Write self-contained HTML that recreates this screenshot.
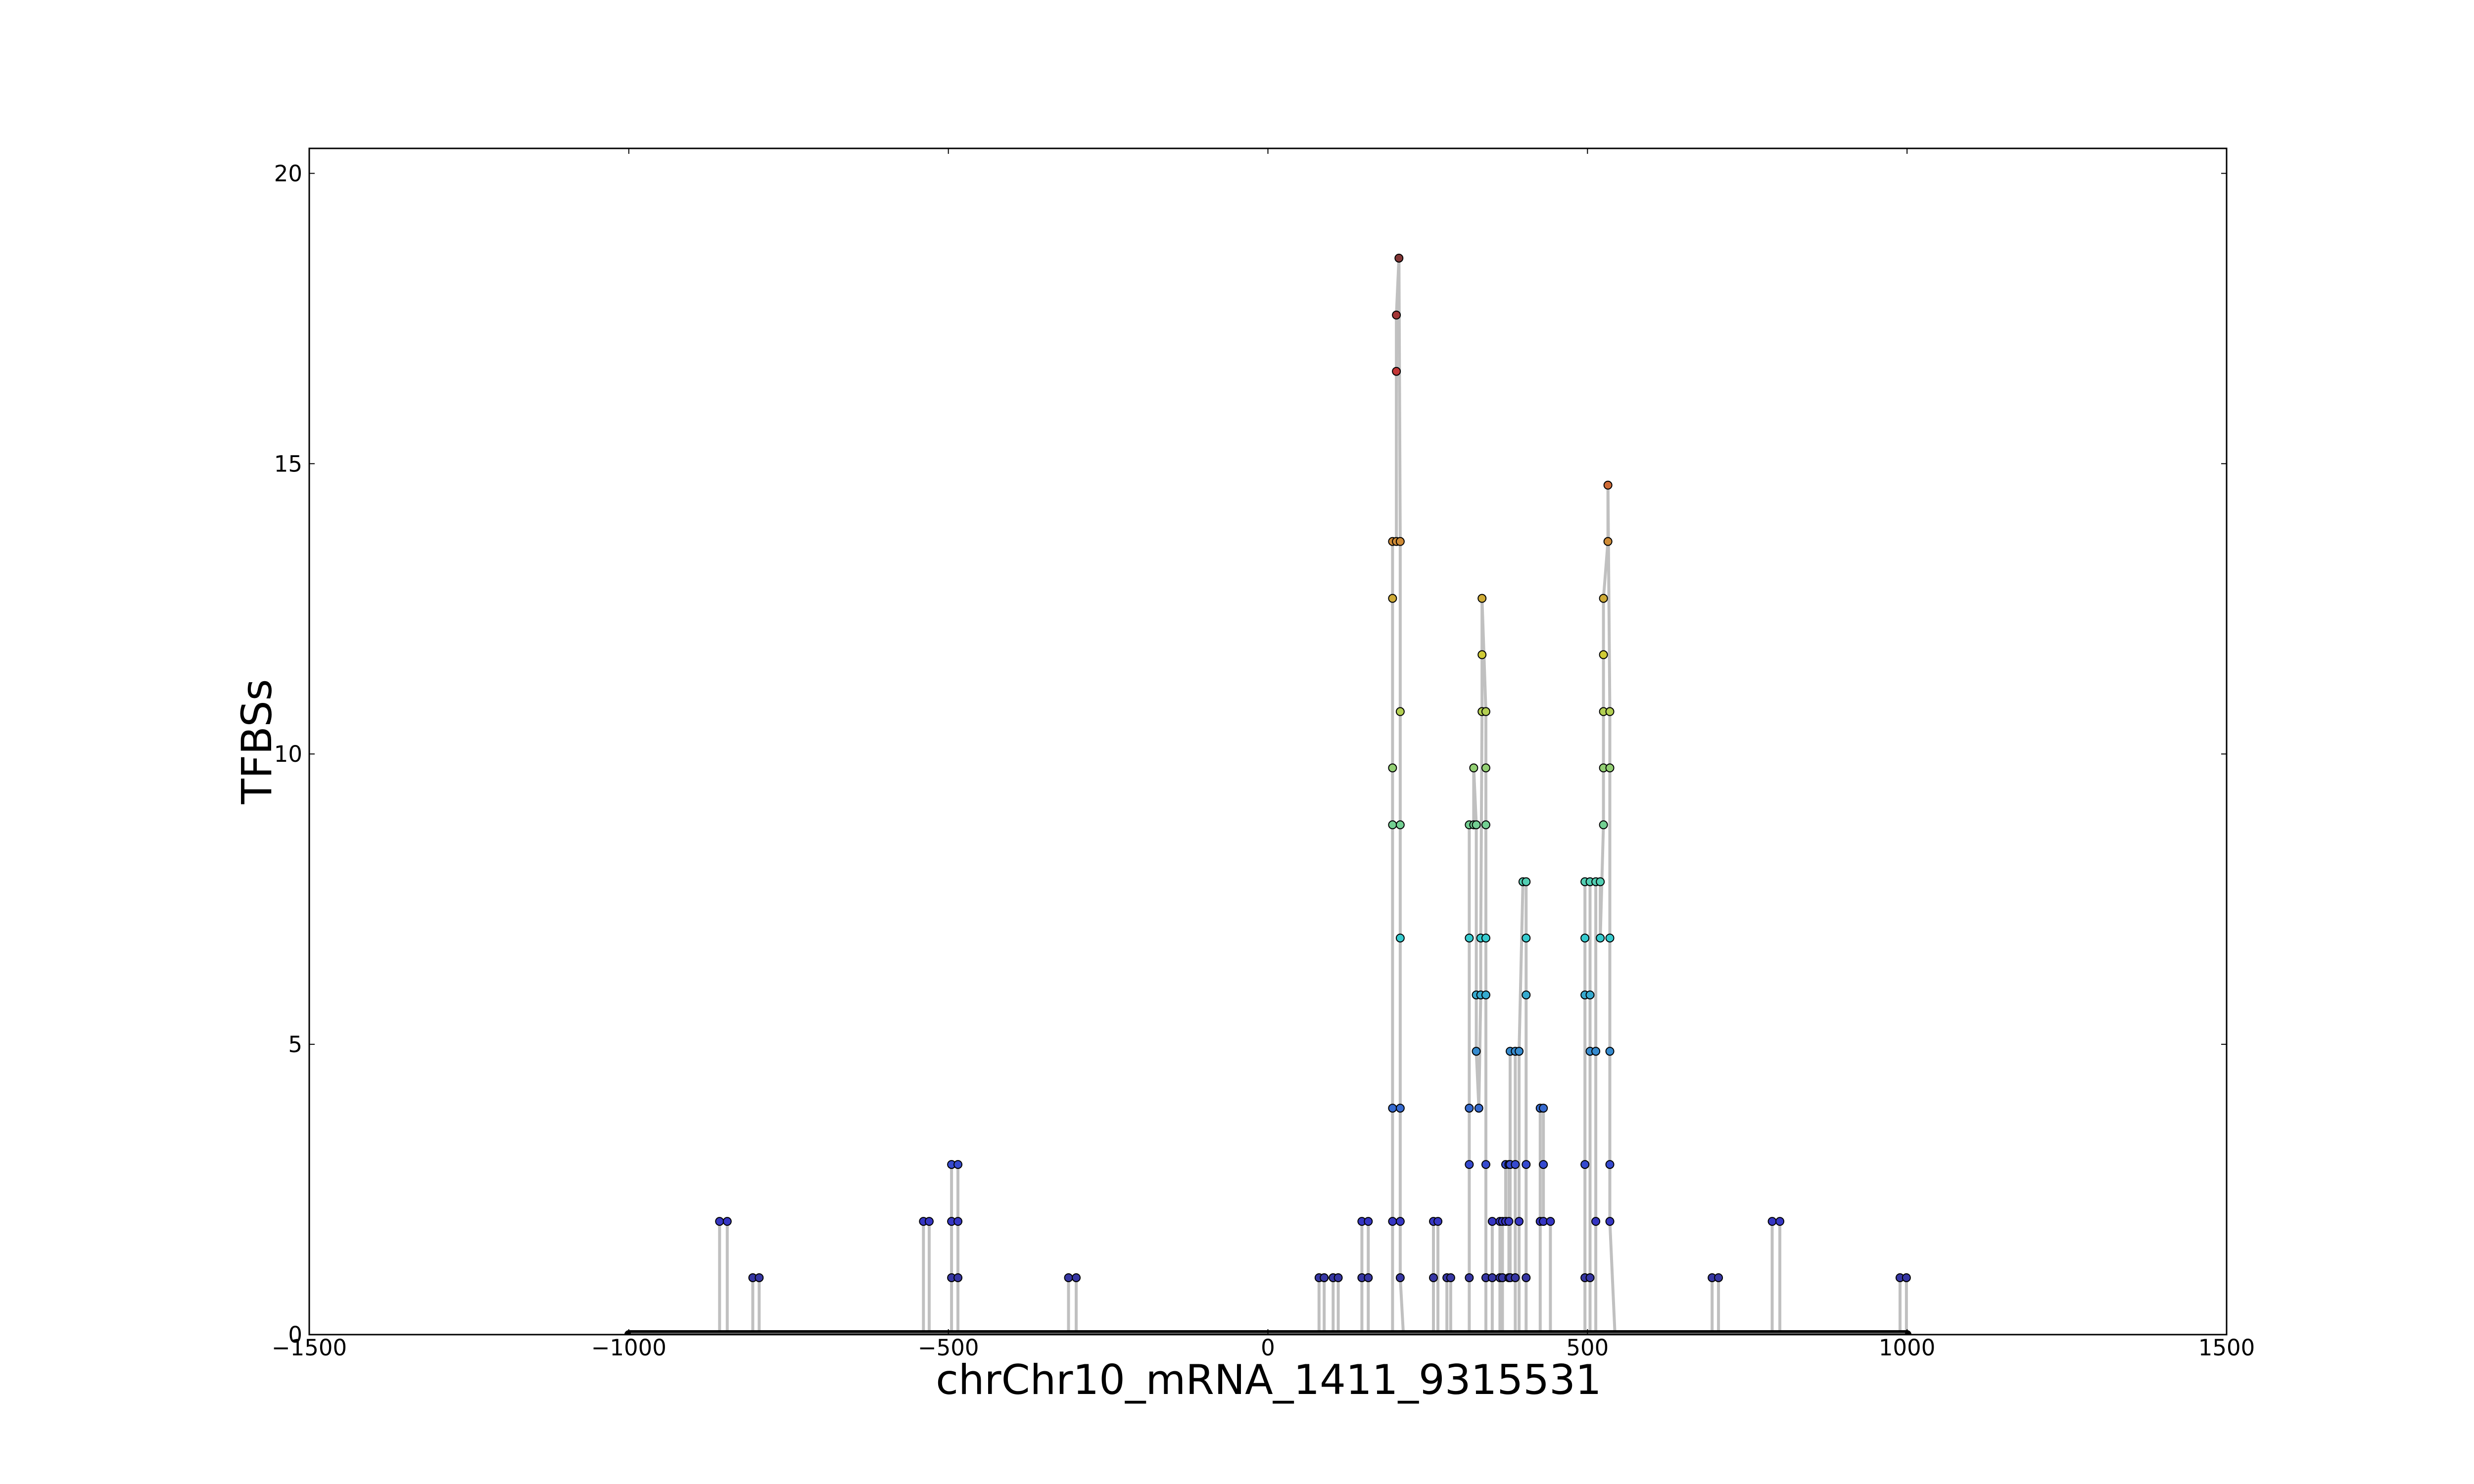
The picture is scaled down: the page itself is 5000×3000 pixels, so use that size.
<!DOCTYPE html>
<html>
<head>
<meta charset="utf-8">
<style>
html,body{margin:0;padding:0;background:#fff;}
svg{display:block;}
text{font-family:"DejaVu Sans","Liberation Sans",sans-serif;fill:#000;}
</style>
</head>
<body>
<svg id="chart" width="5000" height="3000" viewBox="0 0 5000 3000" xmlns="http://www.w3.org/2000/svg">
  <rect x="0" y="0" width="5000" height="3000" fill="#fff"/>
  <defs>
    <clipPath id="plotclip"><rect x="625" y="300" width="3875" height="2398"/></clipPath>
  </defs>
  <g id="grid"></g>
  <g id="series" clip-path="url(#plotclip)"></g>
  <rect x="625" y="300" width="3875" height="2398" fill="none" stroke="#000" stroke-width="3"/>
  <g id="xticks"></g>
  <g id="yticks"></g>
  <text x="2564" y="2818" font-size="83" text-anchor="middle">chrChr10_mRNA_1411_9315531</text>
  <text x="0" y="0" font-size="84" text-anchor="middle" transform="translate(548,1499) rotate(-90)">TFBSs</text>
</svg>
<script>
// ---- data ----
const xTicks = [-1500, -1000, -500, 0, 500, 1000, 1500];
const xTickLabels = ["\u22121500", "\u22121000", "\u2212500", "0", "500", "1000", "1500"];
const yTicks = [0, 5, 10, 15, 20];
const yTickLabels = ["0", "5", "10", "15", "20"];
const baselineRange = [-1000, 1000];
const siteX = [-858,-846,-806,-796,-539,-530,-495,-485,-312,-300,80,88,102,110,147,157,
  195,201,205,207,212,259,266,280,286,
  315,322,326,330,333,335,341,351,363,367,372,377,379,387,393,399,404,426,431,442,
  496,504,513,520,525,532,535,543,695,705,789,801,989,999];
const siteY = [[0,1.95],[1.95,0],[0,0.98],[0.98,0],[0,1.95],[1.95,0],[0,0.98,1.95,2.93],[2.93,1.95,0.98,0],
  [0,0.98],[0.98,0],[0,0.98],[0.98,0],[0,0.98],[0.98,0],[0,0.98,1.95],[1.95,0.98,0],
  [0,1.95,3.9,8.78,9.76,12.68,13.66],[13.66,16.59,17.56],[18.54],[13.66,10.73,8.78,6.83,3.9,1.95,0.98],[0],
  [0,0.98,1.95],[1.95,0],[0,0.98],[0.98,0],
  [0,0.98,2.93,3.9,6.83,8.78],[8.78,9.76],[8.78,5.85,4.88],[3.9],[5.85,6.83],[10.73,11.71,12.68],
  [10.73,9.76,8.78,6.83,5.85,2.93,0.98,0],
  [0,0.98,1.95],[1.95,0.98,0],[0,0.98,1.95],[1.95,2.93],[2.93,1.95,0.98],[0.98,2.93,4.88],[4.88,2.93,0.98,0],
  [0,1.95,4.88],[7.8],[7.8,6.83,5.85,2.93,0.98,0],[0,1.95,3.9],[3.9,2.93,1.95],[1.95,0],
  [0,0.98,2.93,5.85,6.83,7.8],[7.8,5.85,4.88,0.98,0],[0,1.95,4.88,7.8],[7.8,6.83],[8.78,9.76,10.73,11.71,12.68],
  [13.66,14.63],[10.73,9.76,6.83,4.88,2.93,1.95],[0],
  [0,0.98],[0.98,0],[0,1.95],[1.95,0],[0,0.98],[0.98,0]];

// ---- axes ----
const X0 = 625, X1 = 4500, Y0 = 2698, Y1 = 300;
const xMin = -1500, xMax = 1500, yMin = 0, yMax = 20.43;
function sx(v){ return X0 + (v - xMin) / (xMax - xMin) * (X1 - X0); }
function sy(v){ return Y0 - (v - yMin) / (yMax - yMin) * (Y0 - Y1); }
const NS = "http://www.w3.org/2000/svg";
function mk(tag, attrs, parent){ const e = document.createElementNS(NS, tag); for (const k in attrs) e.setAttribute(k, attrs[k]); parent.appendChild(e); return e; }

const xg = document.getElementById('xticks');
xTicks.forEach((t, i) => {
  const x = sx(t);
  const a = mk('line', {x1:x, x2:x, y1:Y0, y2:Y0-11, stroke:'#000', 'stroke-width':2}, xg);
  
  
  const b = mk('line', {x1:x, x2:x, y1:Y1, y2:Y1+11, stroke:'#000', 'stroke-width':2}, xg);
  
  
  const tx = mk('text', {x:x, y:Y0+42, 'font-size':45, 'text-anchor':'middle'}, xg);
  tx.textContent = xTickLabels[i];
  
  
});
const yg = document.getElementById('yticks');
yTicks.forEach((t, i) => {
  const y = sy(t);
  const a = mk('line', {x1:X0, x2:X0+11, y1:y, y2:y, stroke:'#000', 'stroke-width':2}, yg);
  
  
  const b = mk('line', {x1:X1, x2:X1-11, y1:y, y2:y, stroke:'#000', 'stroke-width':2}, yg);
  
  
  const tx = mk('text', {x:X0-14, y:y+16, 'font-size':45, 'text-anchor':'end'}, yg);
  tx.textContent = yTickLabels[i];
  
  
});

// ---- jet colormap ----
function jet(t){
  t = Math.max(0, Math.min(1, t));
  const r = Math.max(0, Math.min(1, 1.5 - Math.abs(4*t - 3)));
  const g = Math.max(0, Math.min(1, 1.5 - Math.abs(4*t - 2)));
  const b = Math.max(0, Math.min(1, 1.5 - Math.abs(4*t - 1)));
  return `rgb(${Math.round(r*255)},${Math.round(g*255)},${Math.round(b*255)})`;
}

// ---- series ----
const sg = document.getElementById('series');
const pts = [];
pts.push([baselineRange[0], 0]);
siteX.forEach((x, i) => siteY[i].forEach(v => pts.push([x, v])));
pts.push([baselineRange[1], 0]);
const vmax = Math.max(...siteY.flat());

const line = mk('polyline', {points: pts.map(p => sx(p[0]).toFixed(1) + ',' + sy(p[1]).toFixed(1)).join(' '),
  fill:'none', stroke:'#c0c0c0', 'stroke-width':6, 'stroke-linejoin':'round'}, sg);



const base = mk('line', {x1:sx(baselineRange[0]), x2:sx(baselineRange[1]), y1:sy(0), y2:sy(0),
  stroke:'#000', 'stroke-width':18, 'stroke-linecap':'round'}, sg);


const base2 = mk('line', {x1:sx(baselineRange[0])+4, x2:sx(baselineRange[1])-4, y1:sy(0)-2, y2:sy(0)-2,
  stroke:'#666', 'stroke-width':4}, sg);



siteX.forEach((x, i) => {
  siteY[i].forEach(v => {
    if (v <= 0) return;
    const u = mk('circle', {cx:sx(x), cy:sy(v), r:8, fill:'#888'}, sg);
    
    
    const c = mk('circle', {cx:sx(x), cy:sy(v), r:8, fill:jet(v / vmax), 'fill-opacity':0.6,
      stroke:'#000', 'stroke-width':2}, sg);
    
    
  });
});
</script>
</body>
</html>
